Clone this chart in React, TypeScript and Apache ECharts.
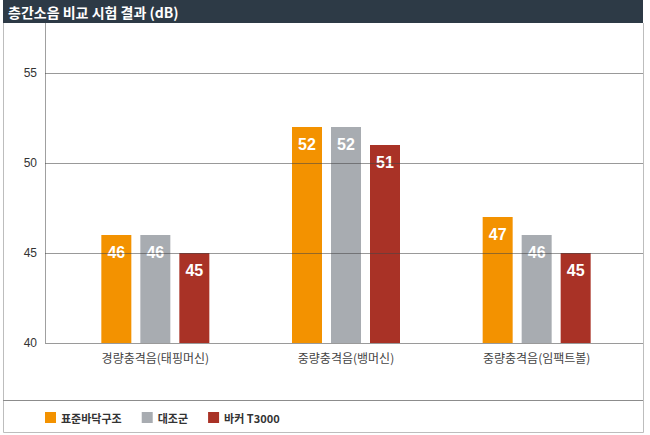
import React, { useEffect, useRef } from "react";
import * as echarts from "echarts";

const title = "층간소음 비교 시험 결과 (dB)";
const categories = ["경량충격음(태핑머신)", "중량충격음(뱅머신)", "중량충격음(임팩트볼)"];
const seriesNames = ["표준바닥구조", "대조군", "바커 T3000"];
const standardValues = [46, 52, 47];
const controlValues = [46, 52, 46];
const barkerValues = [45, 51, 45];
const yMin = 40;
const yMax = 55;
const yInterval = 5;
const gridTicks = [45, 50, 55];

const COLORS = ["#f39200", "#a8acb1", "#a93226"];
const FONT = "'Noto Sans CJK KR', 'Noto Sans', sans-serif";
const NUMFONT = "'Liberation Sans', Arial, sans-serif";

export default function App() {
  const ref = useRef<HTMLDivElement>(null);
  useEffect(() => {
    document.body.style.margin = "0";
    const chart = echarts.init(ref.current!, undefined, { renderer: "svg" });
    const label = {
      show: true,
      position: "insideTop",
      distance: 9,
      color: "#fff",
      fontSize: 16,
      fontWeight: "bold",
      fontFamily: NUMFONT,
    };
    const mk = (name: string, data: number[], color: string) => ({
      name,
      type: "bar",
      data,
      barWidth: 30,
      barGap: "30%",
      itemStyle: { color },
      label,
    });
    chart.setOption({
      animation: false,
      backgroundColor: "#fff",
      grid: { left: 60, right: 18, top: 73, bottom: 92 },
      legend: {
        data: seriesNames,
        left: 45,
        top: 412,
        padding: 0,
        icon: "rect",
        itemWidth: 11,
        itemHeight: 11,
        itemGap: 20,
        textStyle: { fontFamily: FONT, fontSize: 11, fontWeight: "bold", color: "#333" },
      },
      xAxis: {
        type: "category",
        data: categories,
        axisLine: { show: false },
        axisTick: { show: false },
        axisLabel: { margin: 8, fontSize: 12, color: "#444", fontFamily: FONT },
      },
      yAxis: {
        type: "value",
        min: yMin,
        max: yMax,
        interval: yInterval,
        axisLine: { show: false },
        axisTick: { show: false },
        splitLine: { show: false },
        axisLabel: { margin: 23, fontSize: 12, color: "#333", fontFamily: NUMFONT },
      },
      series: [
        mk(seriesNames[0], standardValues, COLORS[0]),
        mk(seriesNames[1], controlValues, COLORS[1]),
        mk(seriesNames[2], barkerValues, COLORS[2]),
      ],
    });

    const baseY = chart.convertToPixel({ yAxisIndex: 0 }, yMin) as number;
    const lineX0 = 45;
    const lineX1 = 643;
    const graphics: any[] = [
      {
        type: "rect",
        shape: { x: 3, y: 0, width: 640, height: 23 },
        style: { fill: "#2d3a46" },
        z: 10,
      },
      {
        type: "text",
        x: 8,
        y: 12,
        style: {
          text: title,
          fill: "#fff",
          font: `bold 14px ${FONT}`,
          verticalAlign: "middle",
        },
        z: 11,
      },
      {
        type: "polyline",
        shape: { points: [[3.5, 23], [3.5, 432.5], [643.5, 432.5], [643.5, 23]] },
        style: { stroke: "#bdbdbd", lineWidth: 1, fill: null },
        z: 10,
      },
      {
        type: "line",
        shape: { x1: 3, y1: 400.5, x2: 643, y2: 400.5 },
        style: { stroke: "#8c8c8c", lineWidth: 1 },
        z: 10,
      },
      {
        type: "line",
        shape: { x1: 45.5, y1: 23, x2: 45.5, y2: Math.round(baseY) + 0.5 },
        style: { stroke: "#a0a0a0", lineWidth: 1 },
        z: 10,
      },
      {
        type: "line",
        shape: { x1: lineX0, y1: Math.round(baseY) + 0.5, x2: lineX1, y2: Math.round(baseY) + 0.5 },
        style: { stroke: "#9a9a9a", lineWidth: 1 },
        z: 10,
      },
    ];
    gridTicks.forEach((v) => {
      const y = Math.round(chart.convertToPixel({ yAxisIndex: 0 }, v) as number) + 0.5;
      graphics.push({
        type: "line",
        shape: { x1: lineX0, y1: y, x2: lineX1, y2: y },
        style: { stroke: "rgba(70,70,70,0.55)", lineWidth: 1 },
        z: 10,
      });
    });
    chart.setOption({ graphic: graphics });

    return () => chart.dispose();
  }, []);
  return (
    <div
      ref={ref}
      style={{ position: "absolute", left: 0, top: 0, width: 650, height: 435 }}
    />
  );
}
